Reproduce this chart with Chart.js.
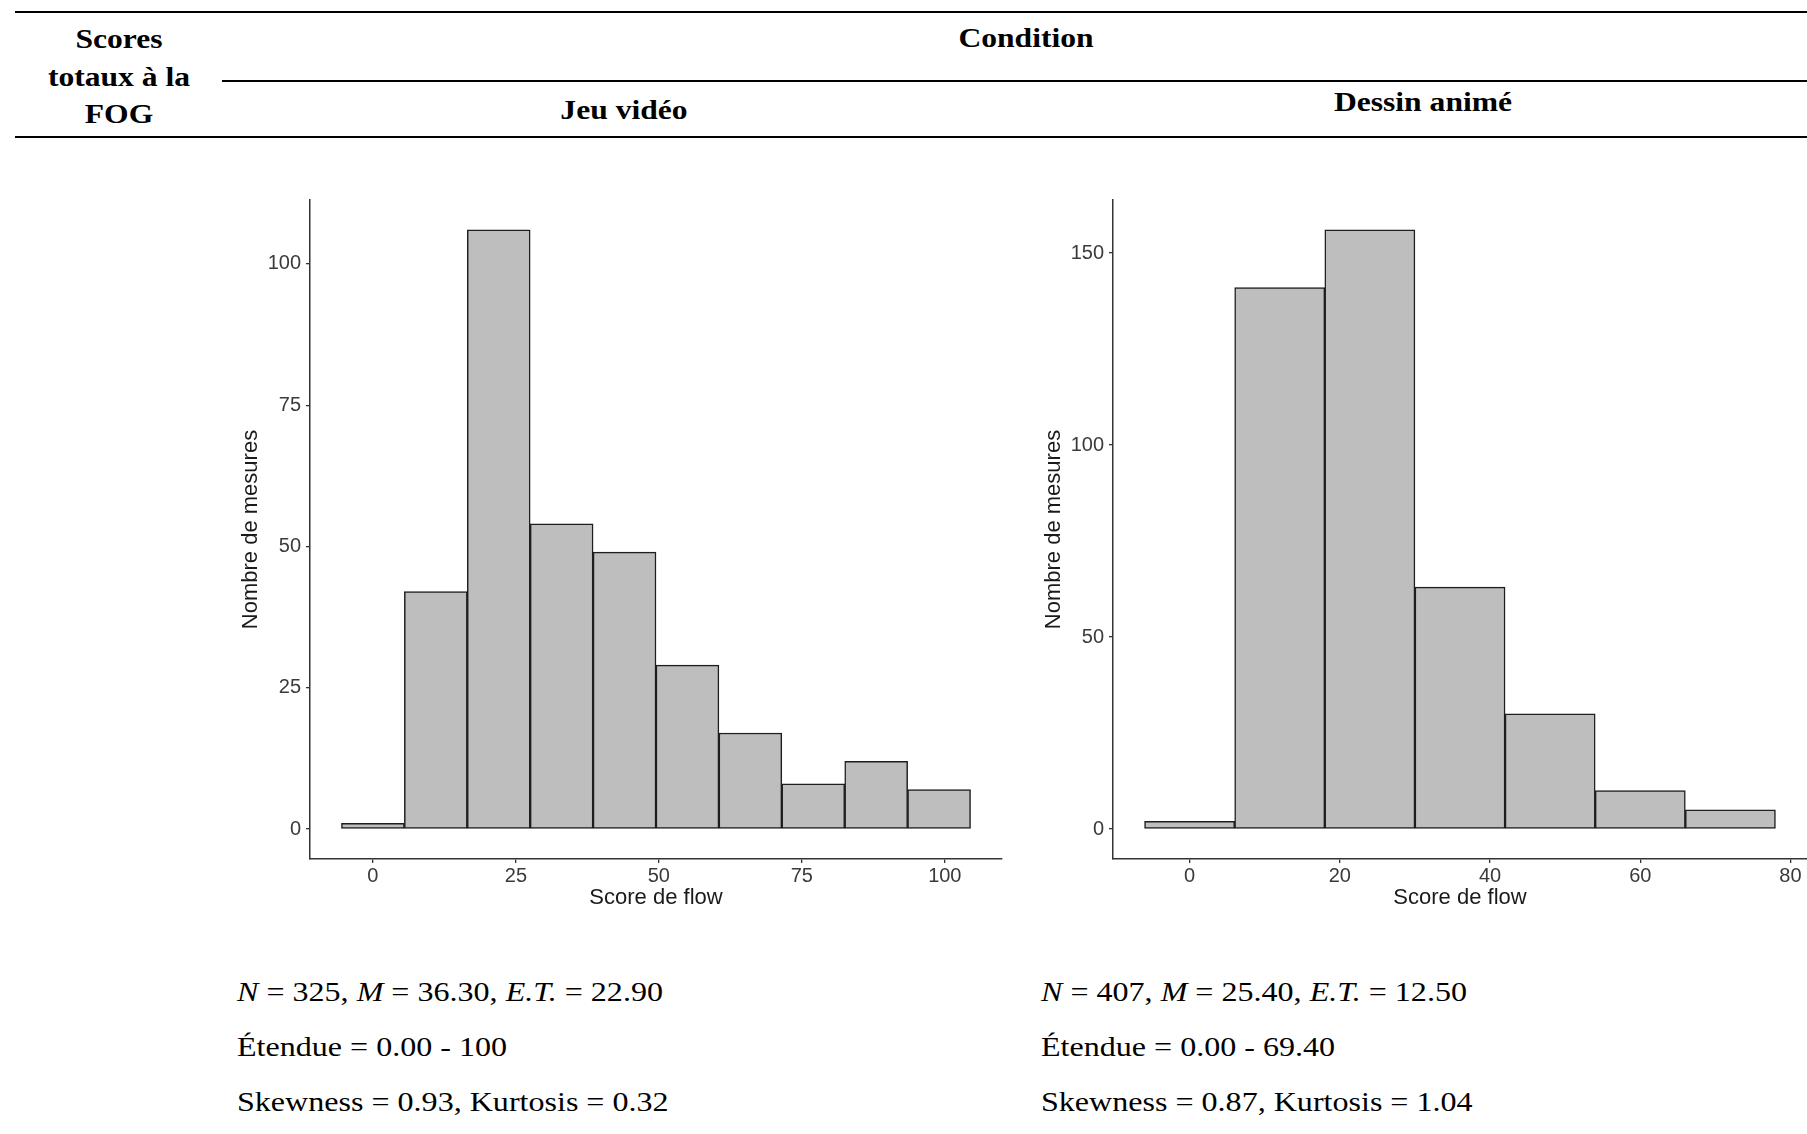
<!DOCTYPE html>
<html>
<head>
<meta charset="utf-8">
<script src="https://cdn.jsdelivr.net/npm/chart.js@4.4.1/dist/chart.umd.min.js"></script>
<style>
  html, body { margin: 0; padding: 0; background: #fff; }
  body { position: relative; width: 1807px; height: 1134px; overflow: hidden; }
  .rule { position: absolute; height: 2px; background: #000; }
  .hd {
    position: absolute; width: 600px; text-align: center; white-space: nowrap;
    font: bold 27px "Liberation Serif", "Times New Roman", serif; line-height: 27px;
    transform: scaleX(1.17); color: #000;
  }
  .st {
    position: absolute; white-space: nowrap; color: #000;
    font: 28px "Liberation Serif", "Times New Roman", serif; line-height: 28px;
    transform: scaleX(1.145); transform-origin: left center;
  }
  canvas { position: absolute; }
</style>
</head>
<body>

<!-- table header -->
<div class="rule" style="left:15px; width:1792px; top:11px;"></div>
<div class="rule" style="left:222px; width:1585px; top:80px;"></div>
<div class="rule" style="left:15px; width:1792px; top:136px;"></div>

<div class="hd" style="left:-181px; top:26px;">Scores</div>
<div class="hd" style="left:-181px; top:64px;">totaux à la</div>
<div class="hd" style="left:-181px; top:101px;">FOG</div>
<div class="hd" style="left:726px; top:25px;">Condition</div>
<div class="hd" style="left:324px; top:97px;">Jeu vidéo</div>
<div class="hd" style="left:1123px; top:89px;">Dessin animé</div>

<canvas id="jeuChart" width="810" height="750" style="left:200px; top:180px;"></canvas>
<canvas id="dessinChart" width="804" height="750" style="left:1003px; top:180px;"></canvas>

<div id="jeuStats"></div>
<div id="dessinStats"></div>

<script>
/* ================= DATA ================= */

// Jeu vidéo : bins of width 11 centred on 0, 11, ... 99
const jeuCentres = [0, 11, 22, 33, 44, 55, 66, 77, 88, 99];
const jeuCounts  = [1, 42, 106, 54, 49, 29, 17, 8, 12, 7];
const jeuBinWidth = 11;
const jeuXTicks = [0, 25, 50, 75, 100];
const jeuYTicks = [0, 25, 50, 75, 100];

// Dessin animé : bins of width 12 centred on 0, 12, ... 72
const dessinCentres = [0, 12, 24, 36, 48, 60, 72];
const dessinCounts  = [2, 141, 156, 63, 30, 10, 5];
const dessinBinWidth = 12;
const dessinXTicks = [0, 20, 40, 60, 80];
const dessinYTicks = [0, 50, 100, 150];

// N, M, E.T., étendue, skewness, kurtosis
const jeuStats    = ["325", "36.30", "22.90", "0.00 - 100", "0.93", "0.32"];
const dessinStats = ["407", "25.40", "12.50", "0.00 - 69.40", "0.87", "1.04"];

/* ================= STYLE ================= */

const SANS = '"Liberation Sans", Arial, sans-serif';
const AXIS = "#333333";
const TICK = "#3a3a3a";
const TITLE = "#1a1a1a";

// ggplot-like 5% expansion of a range
function expand(lo, hi) {
  const pad = (hi - lo) * 0.05;
  return [lo - pad, hi + pad];
}

/* ================= CHARTS ================= */

function makeHist(id, centres, counts, binWidth, xTicks, yTicks, rightPad) {
  const [xMin, xMax] = expand(centres[0] - binWidth / 2, centres[centres.length - 1] + binWidth / 2);
  const [yMin, yMax] = expand(0, Math.max(...counts));

  return new Chart(document.getElementById(id).getContext("2d"), {
    type: "bar",
    data: {
      datasets: [{
        data: centres.map((c, i) => ({ x: c, y: counts[i] })),
        backgroundColor: "#bebebe",
        borderColor: "#1e1e1e",
        borderWidth: 1.5,
        borderSkipped: false,
        barPercentage: 1,
        categoryPercentage: 1
      }]
    },
    options: {
      responsive: false,
      animation: false,
      layout: { padding: { top: 20, right: rightPad, bottom: 0, left: 0 } },
      plugins: { legend: { display: false }, tooltip: { enabled: false } },
      scales: {
        x: {
          type: "linear",
          offset: false,
          min: xMin,
          max: xMax,
          afterBuildTicks: s => { s.ticks = xTicks.map(v => ({ value: v })); },
          afterFit: s => { s.height = 71; },
          grid: { offset: false, drawOnChartArea: false, drawTicks: true, tickLength: 4, color: AXIS, lineWidth: 1.3 },
          border: { display: true, color: AXIS, width: 1.5 },
          ticks: { padding: 1, color: TICK, autoSkip: false, maxRotation: 0, font: { family: SANS, size: 20 } },
          title: {
            display: true, text: "Score de flow", color: TITLE,
            font: { family: SANS, size: 22 }, padding: { top: 0, bottom: 19 }
          }
        },
        y: {
          min: yMin,
          max: yMax,
          afterBuildTicks: s => { s.ticks = yTicks.map(v => ({ value: v })); },
          afterFit: s => { s.width = 110; },
          grid: { drawOnChartArea: false, drawTicks: true, tickLength: 4, color: AXIS, lineWidth: 1.3 },
          border: { display: true, color: AXIS, width: 1.5 },
          ticks: { padding: 5, color: TICK, font: { family: SANS, size: 20 } },
          title: {
            display: true, text: "Nombre de mesures", color: TITLE,
            font: { family: SANS, size: 22 }, padding: { top: 38, bottom: 0 }
          }
        }
      }
    }
  });
}

makeHist("jeuChart", jeuCentres, jeuCounts, jeuBinWidth, jeuXTicks, jeuYTicks, 8);
makeHist("dessinChart", dessinCentres, dessinCounts, dessinBinWidth, dessinXTicks, dessinYTicks, 0);

/* ================= STATS TEXT ================= */

function writeStats(id, s, left) {
  const lines = [
    `<i>N</i> = ${s[0]}, <i>M</i> = ${s[1]}, <i>E.T.</i> = ${s[2]}`,
    `Étendue = ${s[3]}`,
    `Skewness = ${s[4]}, Kurtosis = ${s[5]}`
  ];
  const tops = [978, 1033, 1088];
  document.getElementById(id).innerHTML = lines
    .map((t, i) => `<div class="st" style="left:${left}px; top:${tops[i]}px;">${t}</div>`)
    .join("");
}

writeStats("jeuStats", jeuStats, 237);
writeStats("dessinStats", dessinStats, 1041);
</script>
</body>
</html>
